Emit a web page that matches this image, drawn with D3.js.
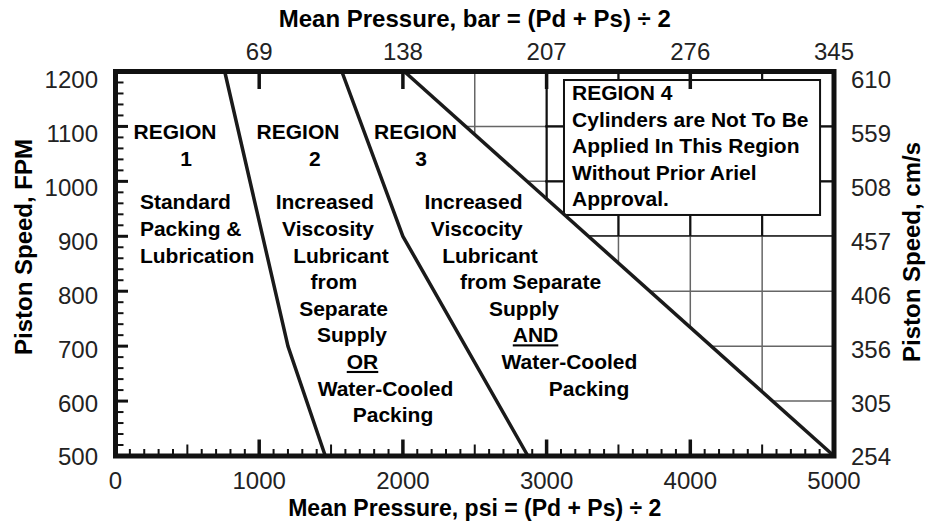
<!DOCTYPE html>
<html lang="en">
<head>
<meta charset="UTF-8">
<title>Piston Speed vs Mean Pressure</title>
<script src="https://cdnjs.cloudflare.com/ajax/libs/d3/7.9.0/d3.min.js"></script>
<style>
    body { margin: 0; background: #fff; }
    svg { display: block; font-family: Arial, "Liberation Sans", Helvetica, sans-serif; }
    .tick-label { font-size: 24px; fill: #222; }
    .axis-title { font-size: 24px; font-weight: bold; fill: #000; }
    .region-text { font-size: 21px; font-weight: bold; fill: #000; }
</style>
</head>
<body>
<svg id="chart" width="929" height="521"></svg>
<script>
// ---- data ----
const psiTicks = [0, 1000, 2000, 3000, 4000, 5000];
const barLabels = [69, 138, 207, 276, 345];          // top axis, at 1000..5000 psi
const fpmTicks = [500, 600, 700, 800, 900, 1000, 1100, 1200];
const cmsLabels = [254, 305, 356, 406, 457, 508, 559, 610];

// region boundaries [psi, fpm]
const boundary12 = [[760, 1200], [1200, 700], [1460, 500]];
const boundary23 = [[1575, 1200], [2000, 900], [2870, 500]];
const boundary34 = [[2010, 1200], [5000, 500]];

const region1Text = ['Standard', 'Packing &', 'Lubrication'];
const region2Text = ['Increased', 'Viscosity', 'Lubricant', 'from', 'Separate', 'Supply', 'OR', 'Water-Cooled', 'Packing'];
const region3Text = ['Increased', 'Viscocity', 'Lubricant', 'from Separate', 'Supply', 'AND', 'Water-Cooled', 'Packing'];
const region4Text = ['REGION 4', 'Cylinders are Not To Be', 'Applied In This Region', 'Without Prior Ariel', 'Approval.'];

// ---- layout ----
const pLeft = 115.5, pRight = 834, pTop = 71.5, pBottom = 456;
const svg = d3.select('#chart');

const x = d3.scaleLinear().domain([0, 5000]).range([pLeft, pRight]);
const y = d3.scaleLinear().domain([500, 1200]).range([pBottom, pTop]);
// side labels sit a little lower than their ticks near the top in the original
const yLab = d3.scaleLinear().domain([500, 1200]).range([457, 80]);

const line = d3.line().x(d => x(d[0])).y(d => y(d[1]));

// ---- grid (only in region 4) ----
const defs = svg.append('defs');
defs.append('clipPath').attr('id', 'r4clip')
    .append('path')
    .attr('d', line([boundary34[0], [5000, 1200], boundary34[1]]) + 'Z');
defs.append('clipPath').attr('id', 'boxclip')
    .append('rect')
    .attr('x', x(2990)).attr('y', y(1200))
    .attr('width', x(5000) - x(2990)).attr('height', y(900) - y(1200));

const gridPsi = d3.range(0, 5001, 500);
const gridFpm = d3.range(500, 1201, 100);

function drawGrid(g) {
    g.selectAll('.gv').data(gridPsi).enter().append('line')
        .attr('x1', d => x(d)).attr('x2', d => x(d))
        .attr('y1', pTop).attr('y2', pBottom);
    g.selectAll('.gh').data(gridFpm).enter().append('line')
        .attr('x1', pLeft).attr('x2', pRight)
        .attr('y1', d => y(d)).attr('y2', d => y(d));
}

const grid = svg.append('g').attr('clip-path', 'url(#r4clip)');
drawGrid(grid.append('g').attr('stroke', '#666').attr('stroke-width', 1.5));
drawGrid(grid.append('g').attr('clip-path', 'url(#boxclip)')
    .attr('stroke', '#111').attr('stroke-width', 2.2));

// ---- region 4 note box ----
const box = svg.append('g');
box.append('rect')
    .attr('x', x(3121)).attr('y', y(1184.5))
    .attr('width', x(4903) - x(3121)).attr('height', y(938.8) - y(1184.5))
    .attr('fill', '#fff').attr('stroke', '#111').attr('stroke-width', 2);
box.selectAll('text').data(region4Text).enter().append('text')
    .attr('class', 'region-text')
    .attr('x', x(3177))
    .attr('y', (d, i) => 93 + i * 26.5)
    .attr('dy', '0.35em')
    .text(d => d);

// ---- boundary lines ----
[boundary12, boundary23, boundary34].forEach(b => {
    svg.append('path')
        .attr('d', line(b))
        .attr('fill', 'none')
        .attr('stroke', '#1a1a1a')
        .attr('stroke-width', 3.5)
        .attr('stroke-linejoin', 'round');
});

// ---- ticks ----
const ticks = svg.append('g').attr('stroke', '#111');
// bottom: every 100 psi, medium at 500, major at 1000
ticks.selectAll('.tb').data(d3.range(100, 5000, 100)).enter().append('line')
    .attr('x1', d => x(d)).attr('x2', d => x(d))
    .attr('y1', pBottom)
    .attr('y2', d => pBottom - 2.5 - (d % 1000 === 0 ? 14 : d % 500 === 0 ? 9 : 4.5))
    .attr('stroke-width', d => d % 1000 === 0 ? 3.5 : 2);
// top: major only
ticks.selectAll('.tt').data(d3.range(1000, 5000, 1000)).enter().append('line')
    .attr('x1', d => x(d)).attr('x2', d => x(d))
    .attr('y1', pTop).attr('y2', pTop + 2.5 + 15)
    .attr('stroke-width', 3.5);
// left: every 20 fpm, major at 100
ticks.selectAll('.tl').data(d3.range(520, 1200, 20)).enter().append('line')
    .attr('x1', pLeft)
    .attr('x2', d => pLeft + 2.5 + (d % 100 === 0 ? 10 : 5.5))
    .attr('y1', d => y(d)).attr('y2', d => y(d))
    .attr('stroke-width', d => d % 100 === 0 ? 3 : 2);

// ---- frame ----
svg.append('rect')
    .attr('x', pLeft).attr('y', pTop)
    .attr('width', pRight - pLeft).attr('height', pBottom - pTop)
    .attr('fill', 'none').attr('stroke', '#111').attr('stroke-width', 5);

// ---- tick labels ----
svg.selectAll('.lb').data(psiTicks).enter().append('text')
    .attr('class', 'tick-label')
    .attr('x', d => x(d)).attr('y', 489)
    .attr('text-anchor', 'middle')
    .text(d => d);
svg.selectAll('.lt').data(barLabels).enter().append('text')
    .attr('class', 'tick-label')
    .attr('x', (d, i) => x(psiTicks[i + 1])).attr('y', 60)
    .attr('text-anchor', 'middle')
    .text(d => d);
svg.selectAll('.ll').data(fpmTicks).enter().append('text')
    .attr('class', 'tick-label')
    .attr('x', 98).attr('y', d => yLab(d))
    .attr('dy', '0.35em')
    .attr('text-anchor', 'end')
    .text(d => d);
svg.selectAll('.lr').data(cmsLabels).enter().append('text')
    .attr('class', 'tick-label')
    .attr('x', 851).attr('y', (d, i) => yLab(fpmTicks[i]))
    .attr('dy', '0.35em')
    .text(d => d);

// ---- axis titles ----
const midX = (pLeft + pRight) / 2;
svg.append('text').attr('class', 'axis-title')
    .attr('x', midX).attr('y', 27).attr('text-anchor', 'middle')
    .text('Mean Pressure, bar = (Pd + Ps) \u00F7 2');
svg.append('text').attr('class', 'axis-title')
    .attr('x', midX).attr('y', 516).attr('text-anchor', 'middle')
    .style('font-size', '23px')
    .text('Mean Pressure, psi = (Pd + Ps) \u00F7 2');
svg.append('text').attr('class', 'axis-title')
    .attr('transform', 'translate(24,247) rotate(-90)')
    .attr('text-anchor', 'middle').attr('dy', '0.35em')
    .text('Piston Speed, FPM');
svg.append('text').attr('class', 'axis-title')
    .attr('transform', 'translate(912,252) rotate(-90)')
    .attr('text-anchor', 'middle').attr('dy', '0.35em')
    .text('Piston Speed, cm/s');

// ---- region labels ----
const lineH = 26.6;
function regionLabel(name, nameX, num, numX, lines, lineX, anchor) {
    const g = svg.append('g').attr('class', 'region-text');
    g.append('text').attr('x', x(nameX)).attr('y', 132).attr('dy', '0.35em')
        .attr('text-anchor', 'middle').text(name);
    g.append('text').attr('x', x(numX)).attr('y', 159).attr('dy', '0.35em')
        .attr('text-anchor', 'middle').text(num);
    g.selectAll('.ln').data(lines).enter().append('text')
        .attr('x', (d, i) => x(lineX[i]))
        .attr('y', (d, i) => 202 + i * lineH)
        .attr('dy', '0.35em')
        .attr('text-anchor', anchor)
        .style('text-decoration', d => (d === 'OR' || d === 'AND') ? 'underline' : null)
        .text(d => d);
}
regionLabel('REGION', 414, '1', 491, region1Text, [170, 170, 170], 'start');
regionLabel('REGION', 1270, '2', 1388, region2Text,
    [1456, 1479, 1569, 1520, 1587, 1646, 1719, 1879, 1931], 'middle');
regionLabel('REGION', 2088, '3', 2126, region3Text,
    [2491, 2514, 2606, 2888, 2843, 2923, 3159, 3295], 'middle');
</script>
</body>
</html>
